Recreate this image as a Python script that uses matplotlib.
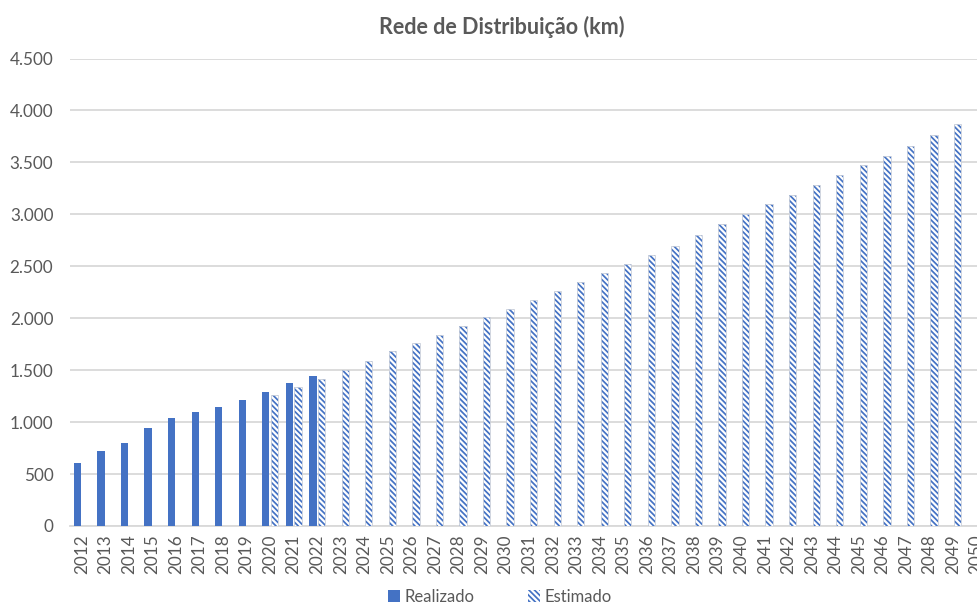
import matplotlib
matplotlib.use('Agg')
import matplotlib.pyplot as plt
from matplotlib.patches import Patch
from matplotlib.ticker import FuncFormatter, MultipleLocator

# Chart data (km)
years = [str(y) for y in range(2012, 2051)]
realizado_years = years[:11]   # 2012 - 2022
realizado = [603, 721, 801, 945, 1036, 1093, 1141, 1212, 1288, 1375, 1445]
estimado_years = years[8:]     # 2020 - 2050
estimado = [1262, 1334, 1413, 1500, 1590, 1680, 1757, 1843, 1923, 2013,
            2093, 2180, 2266, 2353, 2440, 2526, 2613, 2699, 2801, 2910,
            3000, 3099, 3189, 3282, 3378, 3478, 3564, 3660, 3763, 3872, 3968]

BLUE = '#4472C4'
GRAY_TEXT = '#595959'
GRID = '#D9D9D9'
HATCH = '\\' * 6

plt.rcParams['font.family'] = ['Lato', 'DejaVu Sans']
plt.rcParams['hatch.linewidth'] = 1.25

fig = plt.figure(figsize=(9.78, 6.05), dpi=100)
# axes runs past the right edge, like the cropped original
ax = fig.add_axes([70 / 978, 1 - 526 / 605, 918.5 / 978, (526 - 58.5) / 605])

idx = {y: i for i, y in enumerate(years)}
w = 0.31
off = 0.185
ax.bar([idx[y] - off for y in realizado_years], realizado, width=w,
       color=BLUE, zorder=3)
est_x = [idx[y] + off for y in estimado_years]
ax.bar(est_x, estimado, width=w, color='white', edgecolor=BLUE,
       linewidth=0, hatch=HATCH, zorder=3)
# thin light outline round the patterned bars
ax.bar(est_x, estimado, width=w, fill=False, edgecolor='#C9CFDA',
       linewidth=0.6, zorder=4)

ax.set_xlim(-0.5, len(years) - 0.5)
ax.set_ylim(0, 4500)
ax.yaxis.set_major_locator(MultipleLocator(500))
ax.yaxis.set_major_formatter(FuncFormatter(lambda v, p: f'{v:,.0f}'.replace(',', '.')))
ax.set_xticks(range(len(years)))
ax.set_xticklabels(years, rotation=90)

ax.grid(axis='y', color=GRID, linewidth=1.3, zorder=0)
for s in ['top', 'right', 'left']:
    ax.spines[s].set_visible(False)
ax.spines['bottom'].set_color(GRID)
ax.spines['bottom'].set_linewidth(1.3)
ax.tick_params(axis='both', length=0, labelsize=12.3, labelcolor=GRAY_TEXT)
ax.tick_params(axis='y', pad=12)
ax.tick_params(axis='x', pad=6)

fig.text(502 / 978, 1 - 27 / 605, 'Rede de Distribuição (km)', ha='center', va='center',
         fontsize=15.5, fontweight='bold', color=GRAY_TEXT)

handles = [Patch(facecolor=BLUE, label='Realizado'),
           Patch(facecolor='white', edgecolor=BLUE, linewidth=0, hatch=HATCH, label='Estimado')]
fig.legend(handles=handles, loc='center', bbox_to_anchor=(500 / 978, 1 - 597 / 605),
           ncol=2, frameon=False, fontsize=12, labelcolor=GRAY_TEXT,
           handlelength=0.7, handleheight=0.7, handletextpad=0.3, columnspacing=3.2)

fig.savefig('out.png', dpi=100)
